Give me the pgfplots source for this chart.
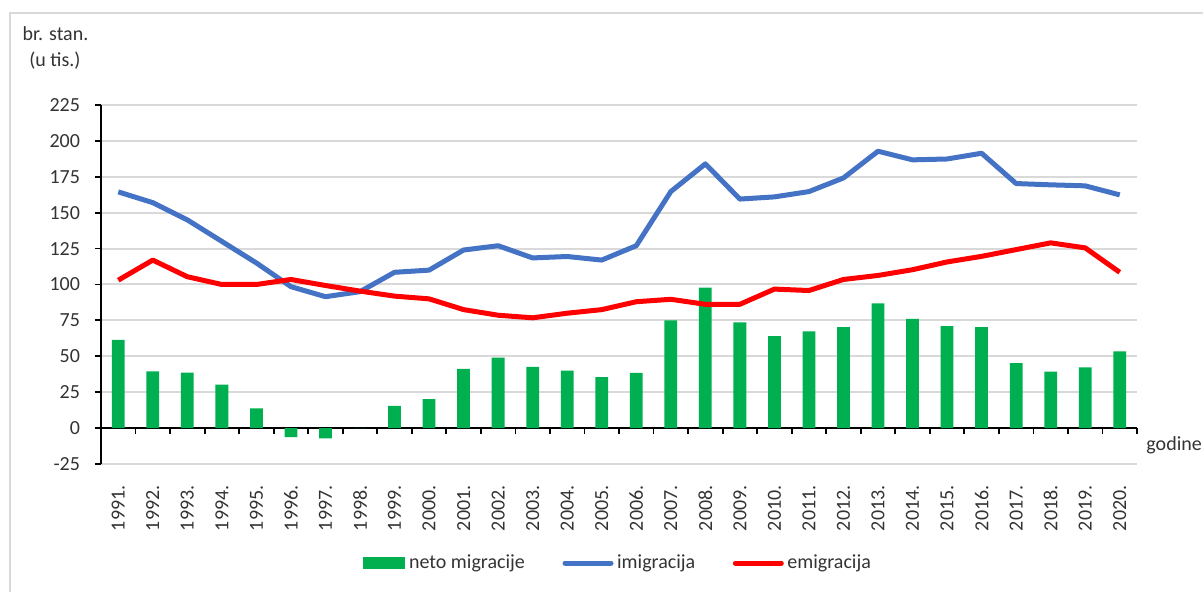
\documentclass[border=0pt]{standalone}
\usepackage{fontspec}
\setmainfont{Carlito}
\usepackage{pgfplots}
\usepackage{pgfplotstable}
\pgfplotsset{compat=1.18}
\definecolor{netogreen}{HTML}{00B050}
\definecolor{imiblue}{HTML}{4472C4}
\definecolor{emired}{HTML}{FF0000}
\definecolor{gridgray}{HTML}{D9D9D9}
\definecolor{textgray}{HTML}{333333}

% tisuce stanovnika, 1991.-2020.
\pgfplotstableread{
x neto imi emi
0 61.5 164.5 103
1 39.5 157 117
2 38.7 145 105.4
3 30.2 130 100
4 13.7 115 100
5 -6.3 98.5 103.5
6 -7.2 91.5 99.3
7 0 95 95.4
8 15.5 108.5 91.9
9 20.2 110 90
10 41.3 124 82.5
11 49 127 78.6
12 42.7 118.5 76.8
13 40 119.5 80
14 35.5 117 82.5
15 38.5 127 88
16 75 164.7 89.7
17 97.8 184 86.2
18 73.6 159.5 86.2
19 64 161 96.8
20 67.3 164.7 95.8
21 70.4 174.2 103.5
22 86.8 192.8 106.3
23 76 186.8 110.3
24 71 187.4 115.7
25 70.4 191.4 119.6
26 45.3 170.3 124.3
27 39.3 169.4 129
28 42.3 168.7 125.5
29 53.4 162.4 108.5
}\migdata

\begin{document}
\begin{tikzpicture}[font=\fontsize{10}{12}\selectfont]
\path[use as bounding box] (-50.5pt,-64pt) rectangle (551pt,232pt);
\draw[gridgray, line width=1pt] (-45.5pt,-80pt) -- (-45.5pt,225.5pt) -- (570pt,225.5pt);
\begin{axis}[
  at={(0pt,0pt)}, anchor=south west,
  scale only axis, width=518pt, height=179.5pt,
  xmin=-0.5, xmax=29.5, ymin=-25, ymax=225,
  axis x line*=middle, axis y line*=left,
  axis line style={black, line width=0.9pt},
  hide obscured x ticks=false, hide obscured y ticks=false,
  xtick={0,...,29},
  xticklabels={1991.,1992.,1993.,1994.,1995.,1996.,1997.,1998.,1999.,2000.,
    2001.,2002.,2003.,2004.,2005.,2006.,2007.,2008.,2009.,2010.,
    2011.,2012.,2013.,2014.,2015.,2016.,2017.,2018.,2019.,2020.},
  minor xtick={0.5,1.5,...,29.5},
  major x tick style={draw=none},
  minor x tick style={black, line width=0.9pt},
  ytick={-25,0,...,225},
  ytick style={black, line width=0.9pt},
  tick align=outside, major tick length=3pt, minor tick length=3pt,
  ymajorgrids, major grid style={gridgray, line width=1pt},
  xticklabel style={rotate=90, anchor=east, inner sep=0pt, text=textgray},
  xticklabel shift=25.5pt,
  yticklabel style={text=textgray, xshift=-4pt},
  /pgf/number format/assume math mode=true,
  legend style={at={(0.5,-0.276)}, anchor=center, draw=none, fill=none,
    legend columns=3, text=textgray,
    /tikz/every even column/.append style={column sep=17pt},
    nodes={inner sep=1.8pt}},
  legend cell align=left,
]
\addplot[ybar, bar width=0.37, bar shift=0pt, fill=netogreen, draw=none,
  legend image code/.code={\fill[netogreen] (0pt,-3pt) rectangle (21pt,3pt);}]
  table[x=x, y=neto] {\migdata};
\addlegendentry{neto migracije}
\addplot[imiblue, line width=2.5pt, line join=round, mark=none,
  legend image code/.code={\draw[imiblue, line width=2.5pt, line cap=round] (0pt,0pt) -- (23pt,0pt);}]
  table[x=x, y=imi] {\migdata};
\addlegendentry{imigracija}
\addplot[emired, line width=2.5pt, line join=round, mark=none,
  legend image code/.code={\draw[emired, line width=2.5pt, line cap=round] (0pt,0pt) -- (23pt,0pt);}]
  table[x=x, y=emi] {\migdata};
\addlegendentry{emigracija}
\end{axis}
\node[text=textgray] at (-22.75pt,215pt) {br. stan.};
\node[text=textgray] at (-23pt,201.5pt) {(u tis.)};
\node[anchor=west, text=textgray, inner sep=0pt] at (522.5pt,9.5pt) {godine};
\end{tikzpicture}
\end{document}
